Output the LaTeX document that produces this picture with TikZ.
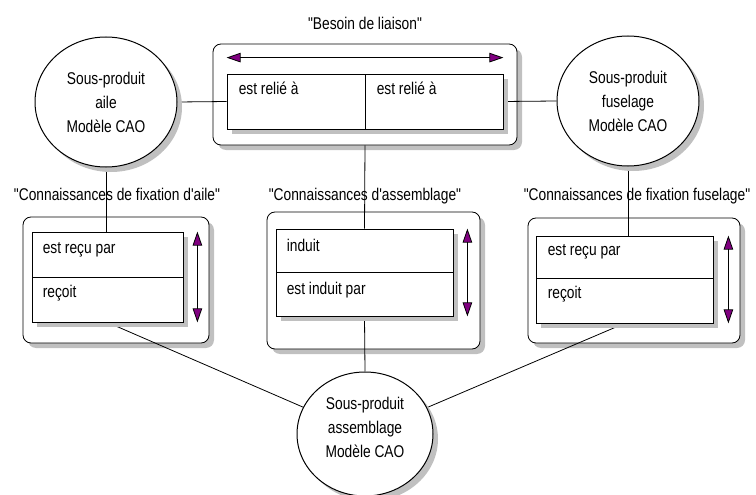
\documentclass[tikz,border=0pt]{standalone}
\usepackage{fontspec}
\setmainfont{Liberation Sans}[FakeStretch=0.81, Ligatures=TeXOff]
\usetikzlibrary{arrows.meta, shapes.geometric, shadows}
\definecolor{ombregris}{RGB}{192,192,192}
\definecolor{violetfleche}{RGB}{128,0,128}
\pgfdeclarelayer{cadres}
\pgfdeclarelayer{liens}
\pgfsetlayers{cadres,liens,main}

\tikzset{
    ombre/.style={drop shadow={shadow xshift=5pt, shadow yshift=-5pt, fill=ombregris, opacity=1}},
    cadre/.style={draw, fill=white, rounded corners=8pt, line width=0.8pt, ombre, inner sep=0pt},
    case/.style={draw, fill=white, line width=0.8pt, ombre, inner sep=0pt},
    objet/.style={ellipse, draw, fill=white, line width=1pt, ombre, inner sep=0pt, align=center, font=\fontsize{17}{24}\selectfont},
    objtxt/.style={inner sep=0pt, align=center, font=\fontsize{17}{24}\selectfont},
    txtcase/.style={anchor=base west, inner sep=0pt, font=\fontsize{17}{24}\selectfont},
    titre/.style={anchor=base, inner sep=0pt, font=\fontsize{17}{24}\selectfont},
    lien/.style={line width=0.8pt},
    fleche/.style={line width=0.8pt, {Triangle[length=14pt,width=9.5pt,fill=violetfleche]}-{Triangle[length=14pt,width=9.5pt,fill=violetfleche]}},
}

\begin{document}
\begin{tikzpicture}[x=1pt, y=-1pt]
    \useasboundingbox (0,0) rectangle (756,495);
    % Cadres extérieurs
    \begin{pgfonlayer}{cadres}
        \node[cadre, minimum width=304pt, minimum height=101pt] (fhaut) at (365,94.5) {};
        \node[cadre, minimum width=186pt, minimum height=126pt] (fgauche) at (116,280) {};
        \node[cadre, minimum width=213pt, minimum height=137pt] (fmilieu) at (373.5,280.5) {};
        \node[cadre, minimum width=212pt, minimum height=125pt] (fdroite) at (634,280.5) {};
    \end{pgfonlayer}
    % Besoin de liaison
    \node[case, minimum width=138pt, minimum height=55pt] (hgauche) at (296,101.5) {};
    \node[case, minimum width=138pt, minimum height=55pt] (hdroite) at (434,101.5) {};
    \node[txtcase] (hgauche-txt) at ([xshift=12pt, yshift=-21pt]hgauche.north west) {est relié à};
    \node[txtcase] (hdroite-txt) at ([xshift=12pt, yshift=-21pt]hdroite.north west) {est relié à};
    \draw[fleche] ([yshift=16pt]hgauche.north west) -- ([yshift=16pt]hdroite.north east);
    % Fixation aile
    \node[case, minimum width=151pt, minimum height=45pt] (ghaut) at (107.5,254.5) {};
    \node[case, minimum width=151pt, minimum height=45pt] (gbas) at (107.5,299.5) {};
    \node[txtcase] (ghaut-txt) at ([xshift=11pt, yshift=-22pt]ghaut.north west) {est reçu par};
    \node[txtcase] (gbas-txt) at ([xshift=11pt, yshift=-21pt]gbas.north west) {reçoit};
    \draw[fleche] ([xshift=14pt]ghaut.north east) -- ([xshift=14pt]gbas.south east);
    % Assemblage
    \node[case, minimum width=177pt, minimum height=43pt] (mhaut) at (364.5,250.5) {};
    \node[case, minimum width=177pt, minimum height=44pt] (mbas) at (364.5,294) {};
    \node[txtcase] (mhaut-txt) at ([xshift=11pt, yshift=-23pt]mhaut.north west) {induit};
    \node[txtcase] (mbas-txt) at ([xshift=11pt, yshift=-23pt]mbas.north west) {est induit par};
    \draw[fleche] ([xshift=14pt]mhaut.north east) -- ([xshift=14pt]mbas.south east);
    % Fixation fuselage
    \node[case, minimum width=177pt, minimum height=42pt] (dhaut) at (624.5,257) {};
    \node[case, minimum width=177pt, minimum height=45pt] (dbas) at (624.5,300.5) {};
    \node[txtcase] (dhaut-txt) at ([xshift=12pt, yshift=-20pt]dhaut.north west) {est reçu par};
    \node[txtcase] (dbas-txt) at ([xshift=12pt, yshift=-21pt]dbas.north west) {reçoit};
    \draw[fleche] ([xshift=15pt]dhaut.north east) -- ([xshift=15pt]dbas.south east);
    % Sous-produits
    \node[objet, minimum width=142pt, minimum height=130pt] (aile) at (106,102) {Sous-produit\\aile\\Modèle CAO};
    \node[objet, minimum width=142pt, minimum height=130pt] (fuselage) at (628,101) {Sous-produit\\fuselage\\Modèle CAO};
    \node[objet, minimum width=136pt, minimum height=124pt] (assemblage) at (365,434) {};
    \node[objtxt] (assemblage-txt) at ([yshift=7pt]assemblage.center) {Sous-produit\\assemblage\\Modèle CAO};
    % Liens
    \begin{pgfonlayer}{liens}
        \draw[lien] (aile.east) -- (hgauche.west);
        \draw[lien] (fuselage.west) -- (hdroite.east);
        \draw[lien] (aile.south) -- (aile.south |- ghaut.north);
        \draw[lien] (fuselage.south) -- (fuselage.south |- dhaut.north);
        \draw[lien] (fhaut.south) -- (mhaut.north);
        \draw[lien] (mbas.south) -- (assemblage.north);
        \draw[lien] (gbas.south) -- (assemblage);
        \draw[lien] (dbas.south) -- (assemblage);
    \end{pgfonlayer}
    % Titres
    \node[titre] (t-liaison) at (365,30) {"Besoin de liaison"};
    \node[titre] (t-aile) at (117,200) {"Connaissances de fixation d'aile"};
    \node[titre] (t-assemblage) at (365,200) {"Connaissances d'assemblage"};
    \node[titre] (t-fuselage) at (637,200) {"Connaissances de fixation fuselage"};
\end{tikzpicture}
\end{document}
